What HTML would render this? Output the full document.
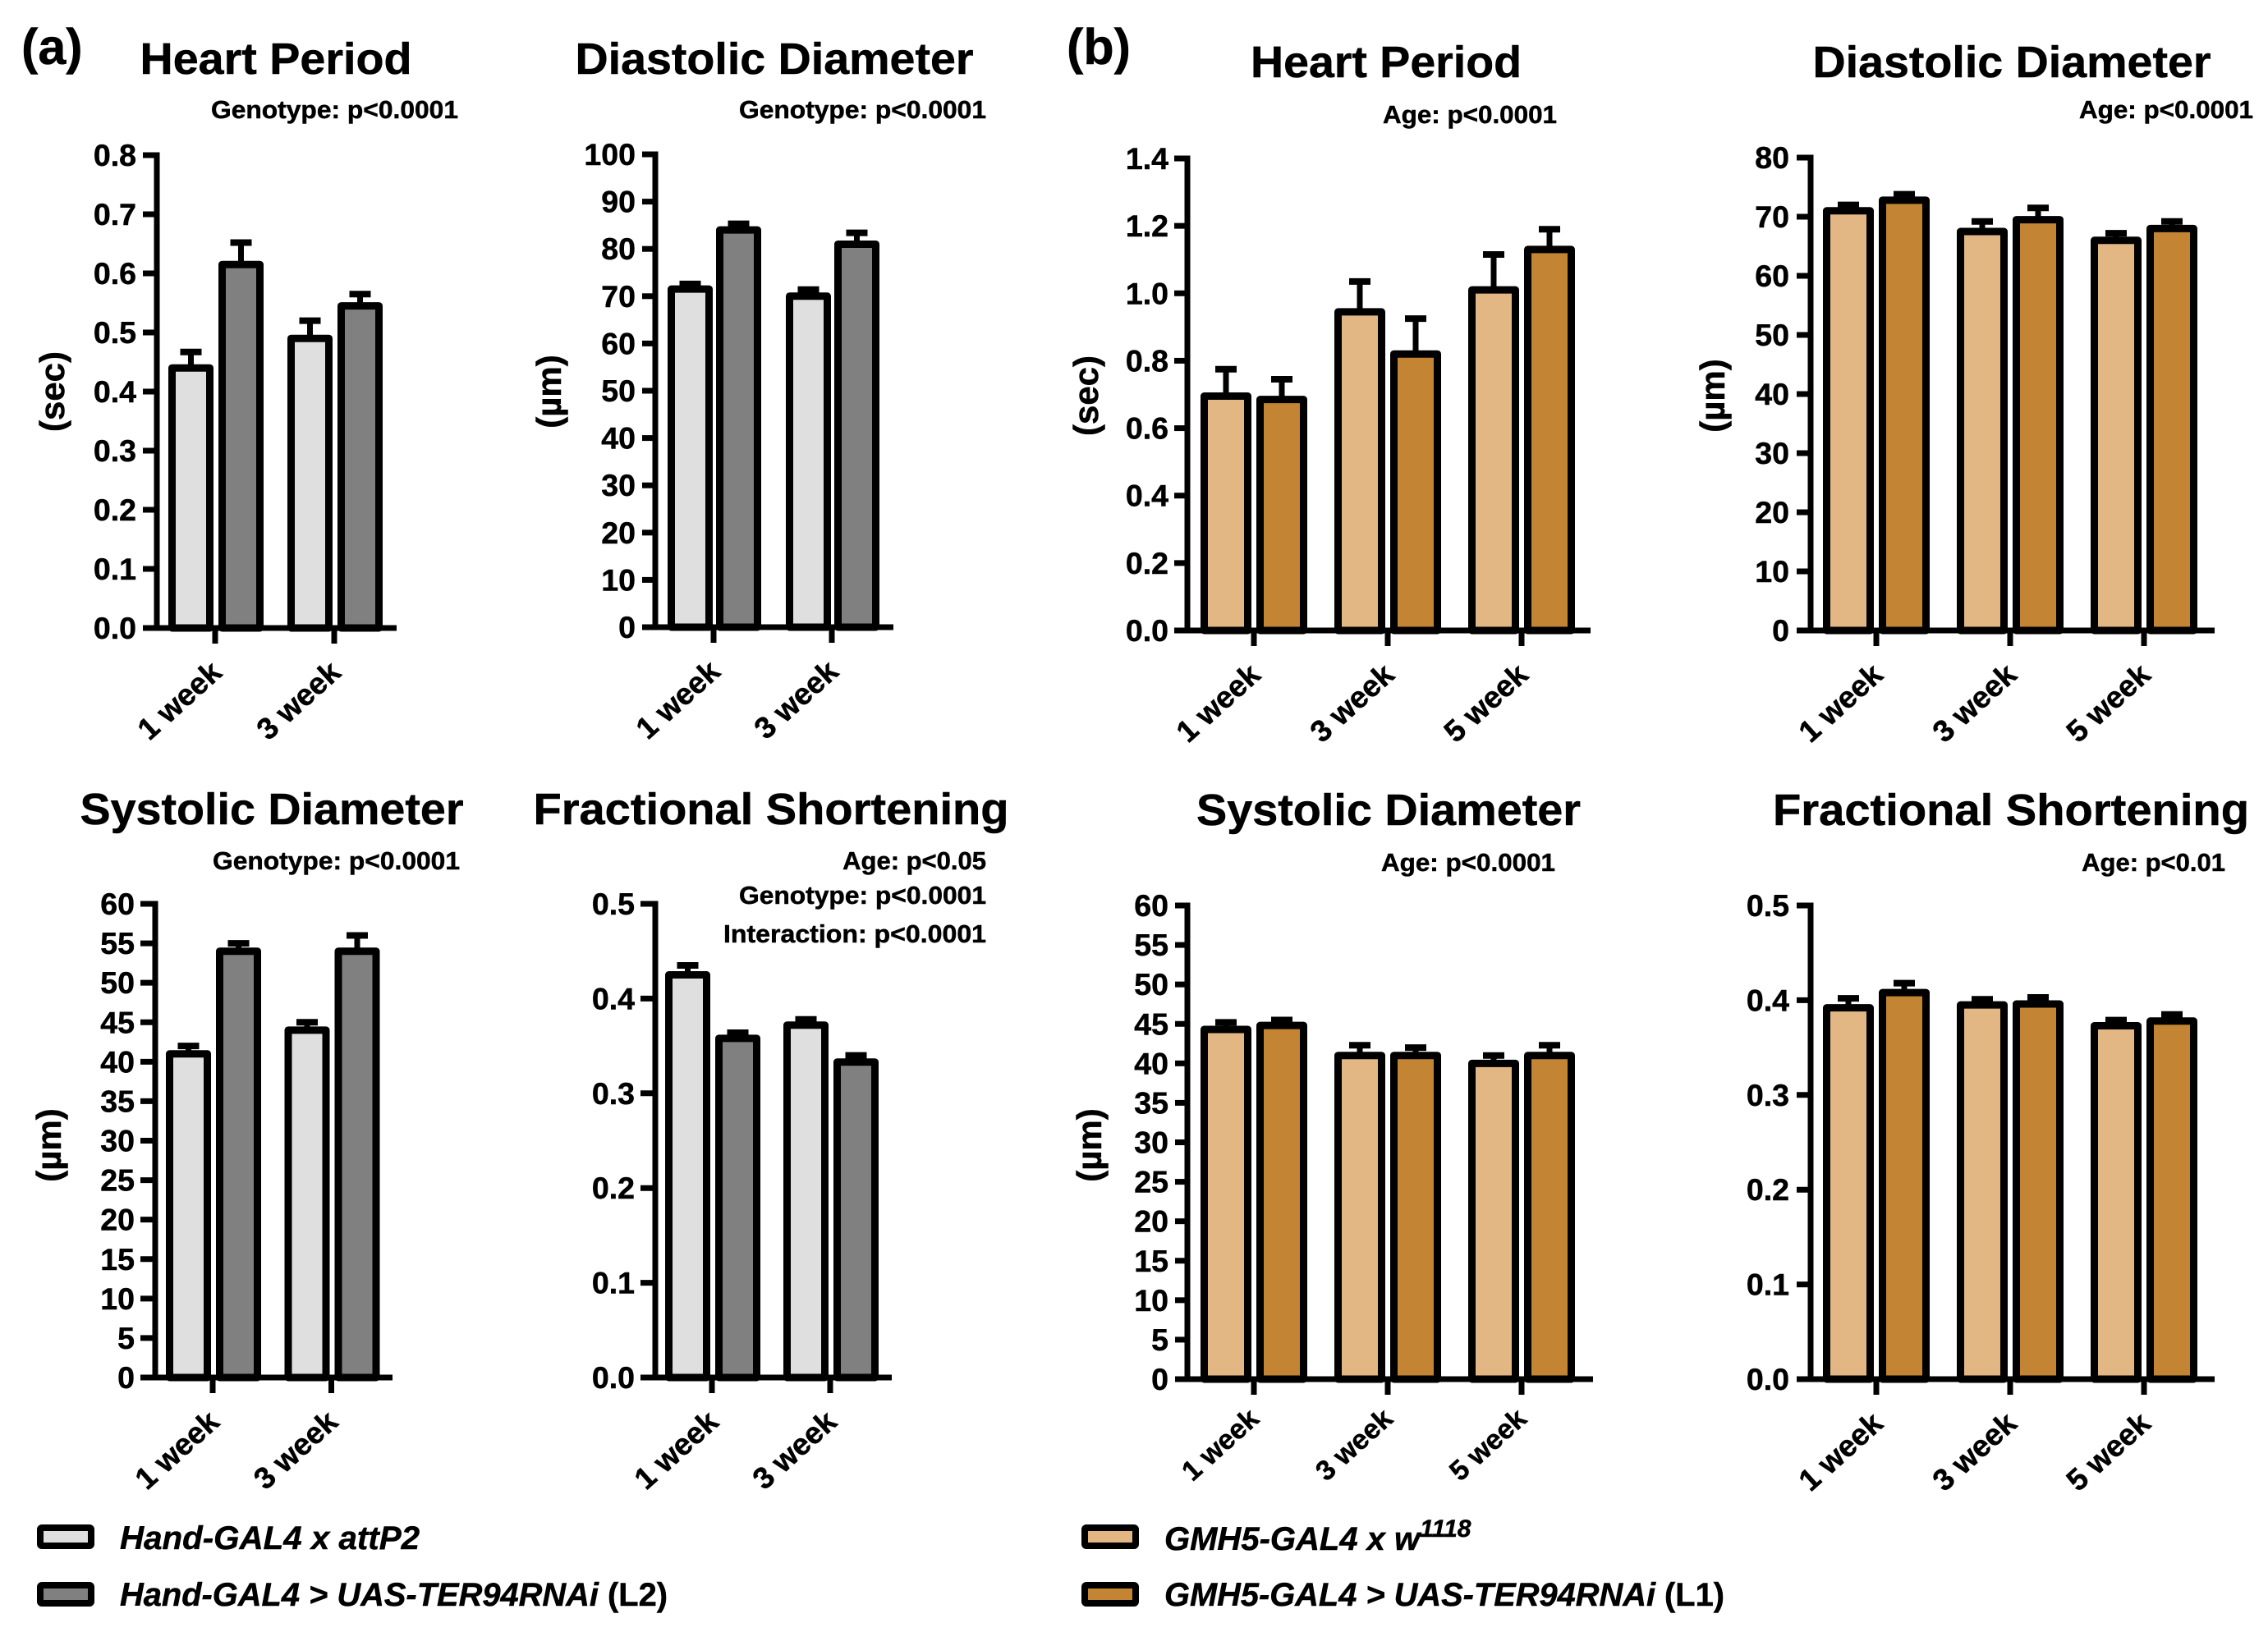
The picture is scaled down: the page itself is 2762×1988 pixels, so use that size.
<!DOCTYPE html>
<html lang="en">
<head>
<meta charset="utf-8">
<title>Heart function bar charts</title>
<style>
html,body{margin:0;padding:0;background:#fff;}
svg{display:block;}
text{font-family:"Liberation Sans",sans-serif;font-weight:bold;fill:#000;stroke:#000;stroke-width:.5px;}
.title{font-size:54px;text-anchor:middle;}
.sub{font-size:31px;text-anchor:end;}
.ylab{font-size:42px;text-anchor:middle;}
.leg{font-size:40px;font-style:italic;}
.lab{font-size:61px;}
</style>
</head>
<body>
<svg id="figure" xmlns="http://www.w3.org/2000/svg" width="2762" height="1988" viewBox="0 0 2762 1988">
  <rect x="0" y="0" width="2762" height="1988" fill="#fff" stroke="none"/>

  <text class="lab" x="26" y="78">(a)</text>
  <text class="lab" x="1299" y="78">(b)</text>

  <text class="title" x="336" y="90" textLength="331" lengthAdjust="spacingAndGlyphs">Heart Period</text>
  <text class="sub" x="558" y="144" textLength="301" lengthAdjust="spacingAndGlyphs">Genotype: p&lt;0.0001</text>
  <text class="ylab" transform="translate(78,477) rotate(-90)">(sec)</text>

  <text class="title" x="943" y="90" textLength="485" lengthAdjust="spacingAndGlyphs">Diastolic Diameter</text>
  <text class="sub" x="1201" y="144" textLength="301" lengthAdjust="spacingAndGlyphs">Genotype: p&lt;0.0001</text>
  <text class="ylab" transform="translate(683,477) rotate(-90)">(µm)</text>

  <text class="title" x="331" y="1004" textLength="467" lengthAdjust="spacingAndGlyphs">Systolic Diameter</text>
  <text class="sub" x="560" y="1059" textLength="301" lengthAdjust="spacingAndGlyphs">Genotype: p&lt;0.0001</text>
  <text class="ylab" transform="translate(74,1395) rotate(-90)">(µm)</text>

  <text class="title" x="939" y="1004" textLength="579" lengthAdjust="spacingAndGlyphs">Fractional Shortening</text>
  <text class="sub" x="1201" y="1059">Age: p&lt;0.05</text>
  <text class="sub" x="1201" y="1101" textLength="301" lengthAdjust="spacingAndGlyphs">Genotype: p&lt;0.0001</text>
  <text class="sub" x="1201" y="1148" textLength="320" lengthAdjust="spacingAndGlyphs">Interaction: p&lt;0.0001</text>

  <text class="title" x="1688" y="94" textLength="330" lengthAdjust="spacingAndGlyphs">Heart Period</text>
  <text class="sub" x="1896" y="150" textLength="212" lengthAdjust="spacingAndGlyphs">Age: p&lt;0.0001</text>
  <text class="ylab" transform="translate(1337,482) rotate(-90)">(sec)</text>

  <text class="title" x="2450" y="94" textLength="485" lengthAdjust="spacingAndGlyphs">Diastolic Diameter</text>
  <text class="sub" x="2744" y="144" textLength="212" lengthAdjust="spacingAndGlyphs">Age: p&lt;0.0001</text>
  <text class="ylab" transform="translate(2100,482) rotate(-90)">(µm)</text>

  <text class="title" x="1691" y="1005" textLength="468" lengthAdjust="spacingAndGlyphs">Systolic Diameter</text>
  <text class="sub" x="1894" y="1061" textLength="212" lengthAdjust="spacingAndGlyphs">Age: p&lt;0.0001</text>
  <text class="ylab" transform="translate(1341,1395) rotate(-90)">(µm)</text>

  <text class="title" x="2449" y="1005" textLength="580" lengthAdjust="spacingAndGlyphs">Fractional Shortening</text>
  <text class="sub" x="2710" y="1061">Age: p&lt;0.01</text>

  <g>
    <rect x="49" y="1861" width="62" height="22" rx="2" fill="#dfdfdf" stroke="#000" stroke-width="8"/>
    <text class="leg" x="146" y="1887" textLength="365" lengthAdjust="spacingAndGlyphs">Hand-GAL4 x attP2</text>
    <rect x="49" y="1931" width="62" height="22" rx="2" fill="#808080" stroke="#000" stroke-width="8"/>
    <text class="leg" x="146" y="1956" textLength="667" lengthAdjust="spacingAndGlyphs">Hand-GAL4 &gt; UAS-TER94RNAi <tspan font-style="normal">(L2)</tspan></text>
  </g>
  <g>
    <rect x="1321" y="1861" width="62" height="22" rx="2" fill="#e2b784" stroke="#000" stroke-width="8"/>
    <text class="leg" x="1418" y="1888">GMH5-GAL4 x w<tspan font-size="30" dy="-16">1118</tspan></text>
    <rect x="1321" y="1931" width="62" height="22" rx="2" fill="#c38433" stroke="#000" stroke-width="8"/>
    <text class="leg" x="1418" y="1956" textLength="682" lengthAdjust="spacingAndGlyphs">GMH5-GAL4 &gt; UAS-TER94RNAi <tspan font-style="normal">(L1)</tspan></text>
  </g>

  <g id="charts"></g>
</svg>
<script>
const weeksA = ['1 week', '3 week'];
const weeksB = ['1 week', '3 week', '5 week'];

const ticksA1 = ['0.0', '0.1', '0.2', '0.3', '0.4', '0.5', '0.6', '0.7', '0.8'];
const ticksA2 = ['0', '10', '20', '30', '40', '50', '60', '70', '80', '90', '100'];
const ticksD60 = ['0', '5', '10', '15', '20', '25', '30', '35', '40', '45', '50', '55', '60'];
const ticksF = ['0.0', '0.1', '0.2', '0.3', '0.4', '0.5'];
const ticksB1 = ['0.0', '0.2', '0.4', '0.6', '0.8', '1.0', '1.2', '1.4'];
const ticksB2 = ['0', '10', '20', '30', '40', '50', '60', '70', '80'];

const a1Control = [0.44, 0.49];
const a1ControlTop = [0.467, 0.52];
const a1Rnai = [0.615, 0.545];
const a1RnaiTop = [0.652, 0.565];

const a2Control = [71.5, 70];
const a2ControlTop = [72.6, 71.4];
const a2Rnai = [84, 81];
const a2RnaiTop = [85.3, 83.4];

const a3Control = [41, 44];
const a3ControlTop = [42, 45];
const a3Rnai = [54, 54];
const a3RnaiTop = [55, 56];

const a4Control = [0.425, 0.372];
const a4ControlTop = [0.435, 0.378];
const a4Rnai = [0.358, 0.333];
const a4RnaiTop = [0.364, 0.34];

const b1Control = [0.695, 0.945, 1.01];
const b1ControlTop = [0.775, 1.035, 1.115];
const b1Rnai = [0.685, 0.82, 1.13];
const b1RnaiTop = [0.745, 0.925, 1.19];

const b2Control = [71, 67.5, 66];
const b2ControlTop = [72, 69.2, 67.2];
const b2Rnai = [72.8, 69.5, 68];
const b2RnaiTop = [73.8, 71.5, 69.2];

const b3Control = [44.3, 41, 40];
const b3ControlTop = [45.2, 42.3, 41];
const b3Rnai = [44.8, 41, 41];
const b3RnaiTop = [45.5, 42, 42.3];

const b4Control = [0.392, 0.395, 0.373];
const b4ControlTop = [0.402, 0.401, 0.379];
const b4Rnai = [0.408, 0.396, 0.378];
const b4RnaiTop = [0.418, 0.403, 0.385];

const NS = 'http://www.w3.org/2000/svg';
const GREY = ['#dfdfdf', '#808080'];
const TAN = ['#e2b784', '#c38433'];

const layouts = [
  {id: 'a1', ax: 191, l: 174, r: 483, top: 189, bot: 765, t0: 262, step: 145, w: 55, gl: 2, gr: 4, labelR: 166, lx: 10, ly: 57, ls: 37, fill: GREY, cats: weeksA, ticks: ticksA1, ctl: a1Control, ctlTop: a1ControlTop, rna: a1Rnai, rnaTop: a1RnaiTop},
  {id: 'a2', ax: 798, l: 782, r: 1088, top: 188, bot: 764, t0: 869, step: 144, w: 55, gl: 1, gr: 3, labelR: 774, lx: 10, ly: 57, ls: 37, fill: GREY, cats: weeksA, ticks: ticksA2, ctl: a2Control, ctlTop: a2ControlTop, rna: a2Rnai, rnaTop: a2RnaiTop},
  {id: 'a3', ax: 189, l: 171, r: 478, top: 1101, bot: 1678, t0: 259, step: 144.5, w: 55, gl: 2, gr: 4, labelR: 164, lx: 10, ly: 57, ls: 37, fill: GREY, cats: weeksA, ticks: ticksD60, ctl: a3Control, ctlTop: a3ControlTop, rna: a3Rnai, rnaTop: a3RnaiTop},
  {id: 'a4', ax: 798, l: 780, r: 1086, top: 1101, bot: 1678, t0: 867, step: 144, w: 55, gl: 2, gr: 4, labelR: 773, lx: 10, ly: 57, ls: 37, fill: GREY, cats: weeksA, ticks: ticksF, ctl: a4Control, ctlTop: a4ControlTop, rna: a4Rnai, rnaTop: a4RnaiTop},
  {id: 'b1', ax: 1446, l: 1430, r: 1937, top: 193, bot: 768, t0: 1527, step: 163, w: 62, gl: 3, gr: 3, labelR: 1423, lx: 10, ly: 57, ls: 37, fill: TAN, cats: weeksB, ticks: ticksB1, ctl: b1Control, ctlTop: b1ControlTop, rna: b1Rnai, rnaTop: b1RnaiTop},
  {id: 'b2', ax: 2205, l: 2188, r: 2697, top: 192, bot: 768, t0: 2285, step: 163, w: 62, gl: 3, gr: 3, labelR: 2179, lx: 10, ly: 57, ls: 37, fill: TAN, cats: weeksB, ticks: ticksB2, ctl: b2Control, ctlTop: b2ControlTop, rna: b2Rnai, rnaTop: b2RnaiTop},
  {id: 'b3', ax: 1446, l: 1431, r: 1940, top: 1103, bot: 1680, t0: 1527, step: 163, w: 62, gl: 3, gr: 3, labelR: 1423, lx: 8, ly: 51, ls: 34, fill: TAN, cats: weeksB, ticks: ticksD60, ctl: b3Control, ctlTop: b3ControlTop, rna: b3Rnai, rnaTop: b3RnaiTop},
  {id: 'b4', ax: 2205, l: 2188, r: 2697, top: 1103, bot: 1680, t0: 2285, step: 163, w: 62, gl: 3, gr: 3, labelR: 2179, lx: 10, ly: 57, ls: 37, fill: TAN, cats: weeksB, ticks: ticksF, ctl: b4Control, ctlTop: b4ControlTop, rna: b4Rnai, rnaTop: b4RnaiTop}
];

function makeLine(parent, name, x1, y1, x2, y2, width) {
  const el = document.createElementNS(NS, 'line');
  
  
  el.setAttribute('x1', x1);
  el.setAttribute('y1', y1);
  el.setAttribute('x2', x2);
  el.setAttribute('y2', y2);
  el.setAttribute('stroke', '#000');
  el.setAttribute('stroke-width', width);
  parent.appendChild(el);
  return el;
}

function makeText(parent, name, content, x, y, size, anchor, transform) {
  const el = document.createElementNS(NS, 'text');
  
  
  el.setAttribute('x', x);
  el.setAttribute('y', y);
  el.setAttribute('font-size', size);
  el.setAttribute('text-anchor', anchor);
  if (transform) el.setAttribute('transform', transform);
  el.textContent = content;
  parent.appendChild(el);
  return el;
}

function drawChart(p) {
  const g = document.createElementNS(NS, 'g');
  
  
  document.getElementById('charts').appendChild(g);

  const maxValue = parseFloat(p.ticks[p.ticks.length - 1]);
  const yScale = v => p.bot - (v / maxValue) * (p.bot - p.top);
  const xScale = i => p.t0 + i * p.step;
  const sw = 9;

  function drawBar(name, left, value, top, fill) {
    const centre = left + p.w / 2;
    makeLine(g, name + '-error-stem', centre, yScale(value), centre, yScale(top), 7);
    makeLine(g, name + '-error-cap', centre - 13, yScale(top), centre + 13, yScale(top), 8);
    const r = document.createElementNS(NS, 'rect');
    
    
    r.setAttribute('x', left + sw / 2);
    r.setAttribute('y', yScale(value));
    r.setAttribute('width', p.w - sw);
    r.setAttribute('height', p.bot - yScale(value));
    r.setAttribute('fill', fill);
    r.setAttribute('stroke', '#000');
    r.setAttribute('stroke-width', sw);
    r.setAttribute('stroke-linejoin', 'round');
    g.appendChild(r);
  }

  p.cats.forEach((cat, i) => {
    const tick = xScale(i);
    drawBar(p.id + '-bar-control-' + i, tick - p.gl - p.w, p.ctl[i], p.ctlTop[i], p.fill[0]);
    drawBar(p.id + '-bar-rnai-' + i, tick + p.gr, p.rna[i], p.rnaTop[i], p.fill[1]);
  });

  makeLine(g, p.id + '-y-axis', p.ax, p.top - 3.5, p.ax, p.bot + 3.5, 7);
  makeLine(g, p.id + '-x-axis', p.l, p.bot, p.r, p.bot, 7);

  p.ticks.forEach((label, i) => {
    const y = yScale(parseFloat(label));
    makeLine(g, p.id + '-y-tick-' + i, p.l, y, p.ax, y, 7);
    makeText(g, p.id + '-y-tick-label-' + i, label, p.labelR, y + 13, 37.5, 'end');
  });

  p.cats.forEach((cat, i) => {
    const tick = xScale(i);
    makeLine(g, p.id + '-x-tick-' + i, tick, p.bot, tick, p.bot + 19, 7);
    const ax = tick + p.lx;
    const ay = p.bot + p.ly;
    makeText(g, p.id + '-x-tick-label-' + i, cat, ax, ay, p.ls, 'end', 'rotate(-42 ' + ax + ' ' + ay + ')');
  });
}

layouts.forEach(drawChart);
</script>
</body>
</html>
